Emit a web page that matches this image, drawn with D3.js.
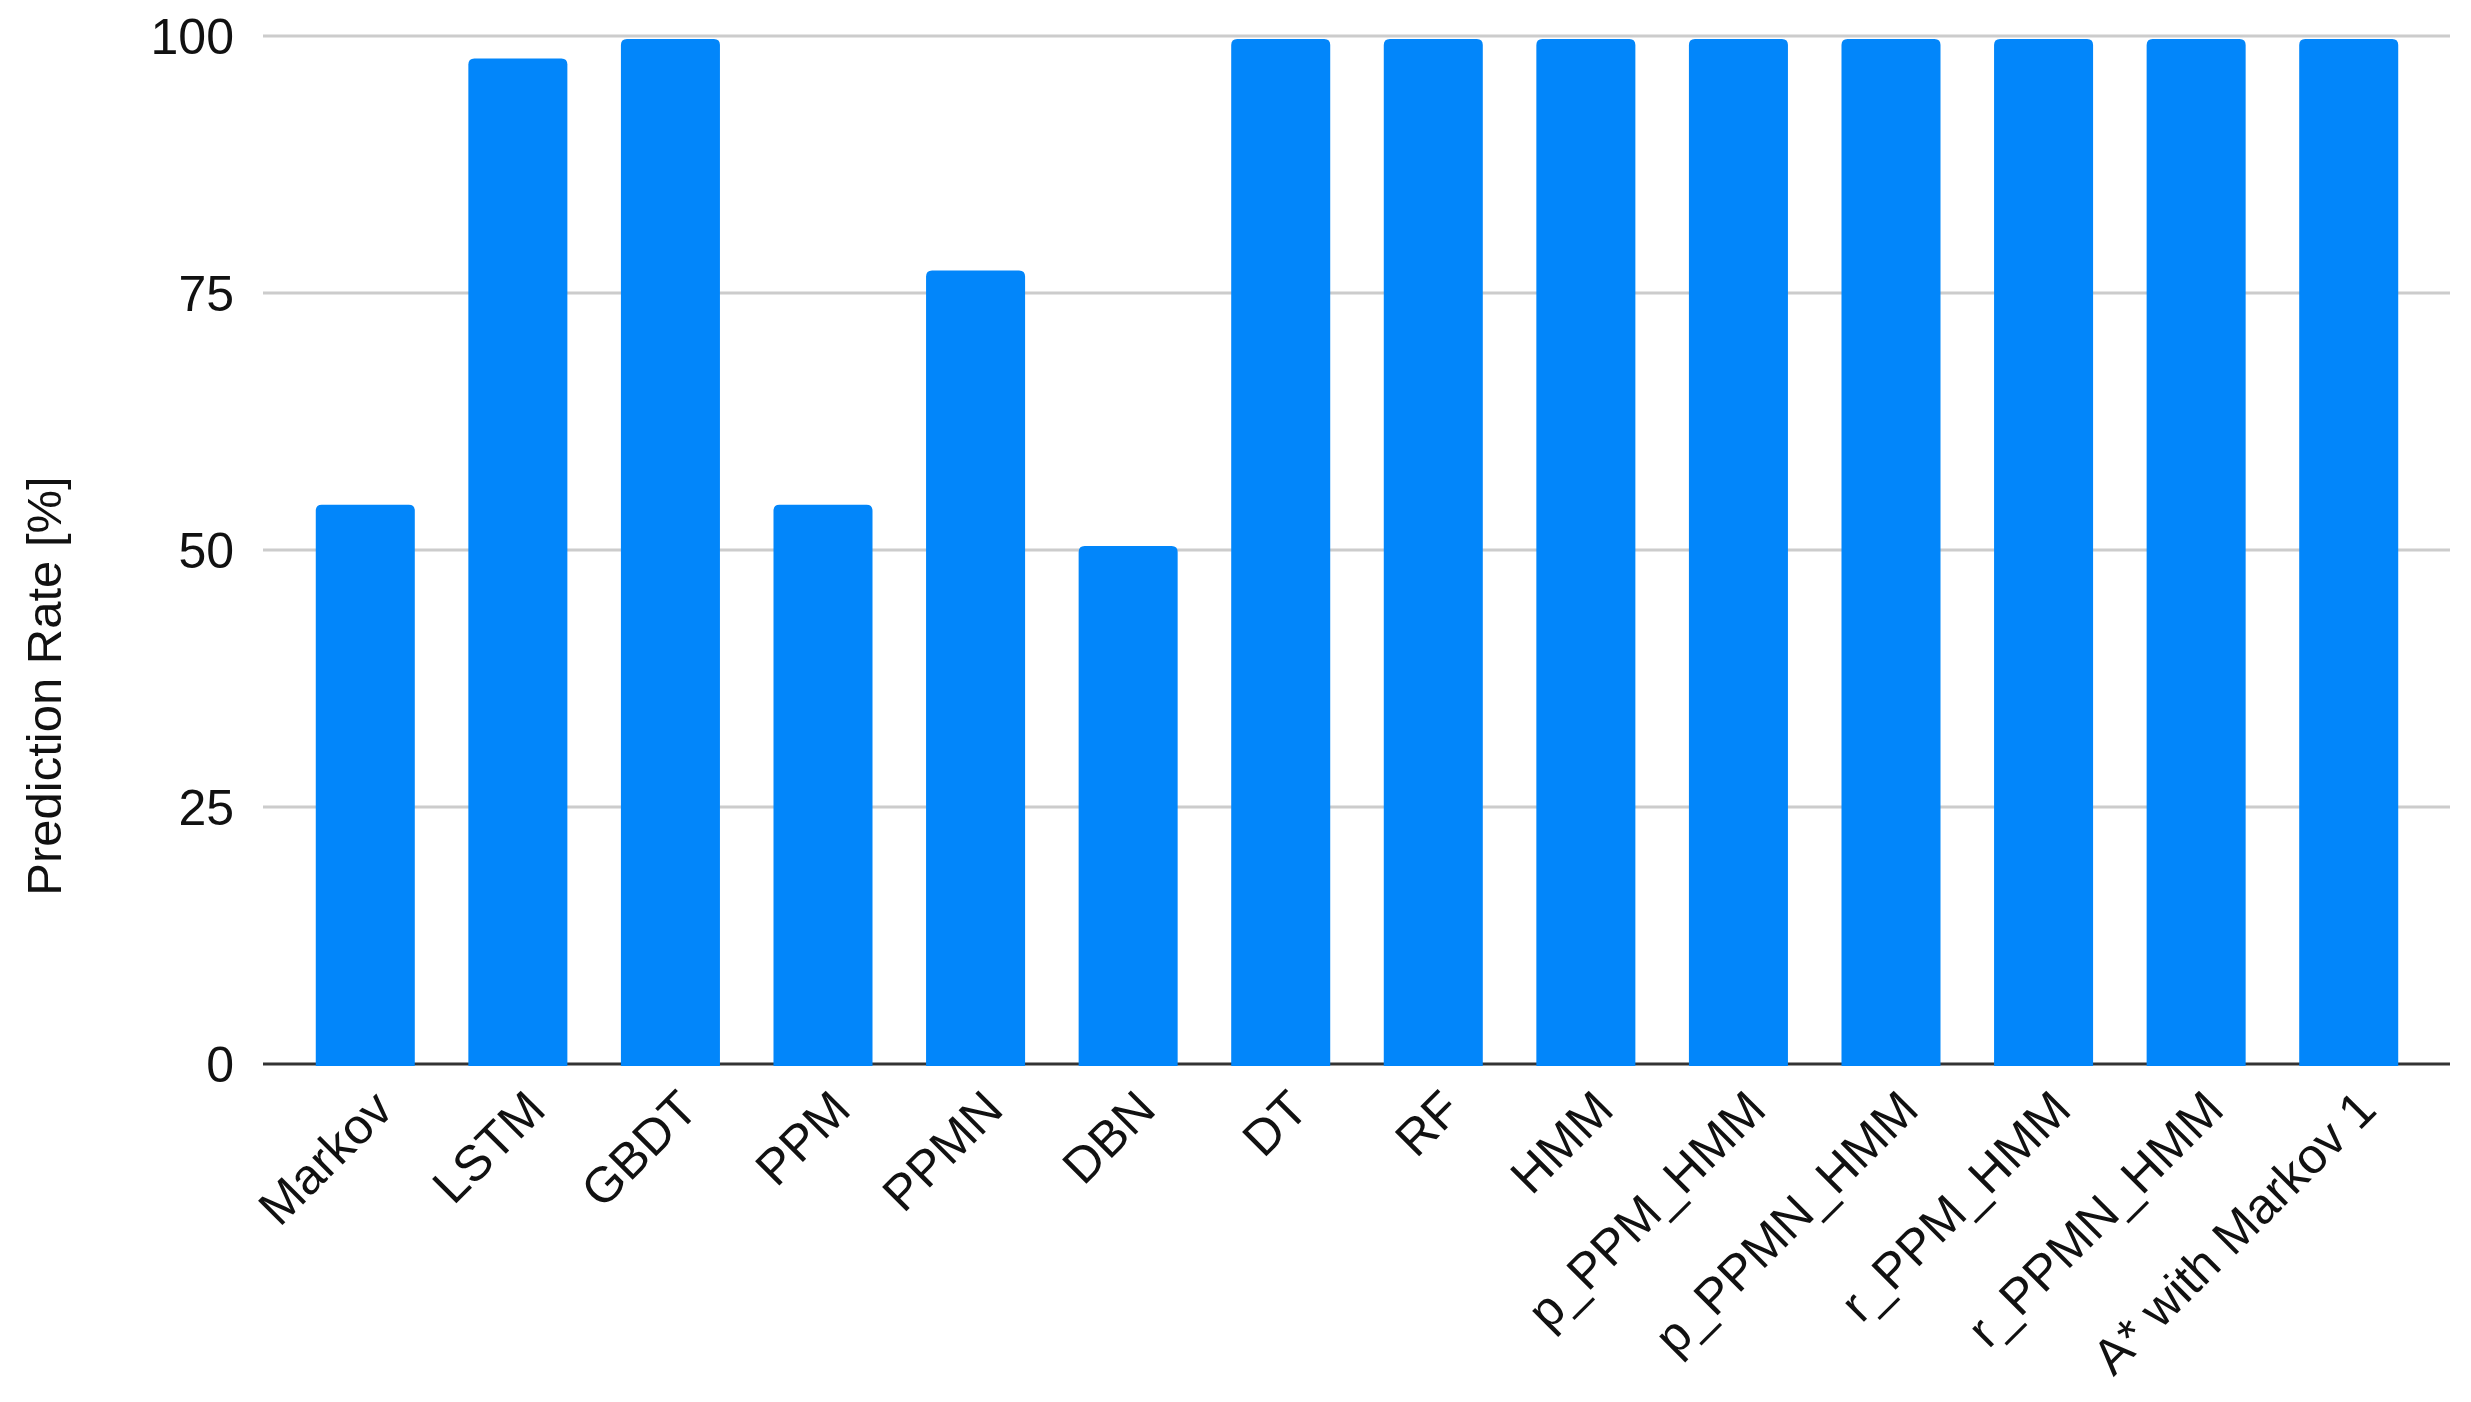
<!DOCTYPE html>
<html>
<head>
<meta charset="utf-8">
<script src="https://cdn.jsdelivr.net/npm/d3@7"></script>
<style>
  html, body { margin: 0; padding: 0; background: #fff; }
  svg { display: block; }
  text { font-family: "Liberation Sans", Arial, sans-serif; fill: #111; }
</style>
</head>
<body>
<svg id="chart" width="2471" height="1402"></svg>
<script>
const categories = ["Markov", "LSTM", "GBDT", "PPM", "PPMN", "DBN", "DT", "RF", "HMM",
  "p_PPM_HMM", "p_PPMN_HMM", "r_PPM_HMM", "r_PPMN_HMM", "A* with Markov 1"];
const values = [54.4, 97.8, 99.7, 54.4, 77.2, 50.4, 99.7, 99.7, 99.7, 99.7, 99.7, 99.7, 99.7, 99.7];
const yTicks = [0, 25, 50, 75, 100];
const yTitle = "Prediction Rate [%]";

const W = 2471, H = 1402;
const svg = d3.select("#chart");

const gridLeft = 263, gridRight = 2450;
const y = d3.scaleLinear().domain([0, 100]).range([1064, 36]);

const pi = 0.351;
const x = d3.scaleBand().domain(categories)
  .range([289, 2425]).paddingInner(pi).paddingOuter(pi / 2);

// gridlines
svg.append("g").selectAll("line").data(yTicks.filter(d => d !== 0)).join("line")
  .attr("x1", gridLeft).attr("x2", gridRight)
  .attr("y1", d => y(d)).attr("y2", d => y(d))
  .attr("stroke", "#cccccc").attr("stroke-width", 3);

// baseline
svg.append("line")
  .attr("x1", gridLeft).attr("x2", gridRight)
  .attr("y1", y(0)).attr("y2", y(0))
  .attr("stroke", "#333").attr("stroke-width", 3);

// y tick labels
const yAxis = d3.axisLeft(y).tickValues(yTicks).tickSize(0).tickPadding(0);
const ya = svg.append("g").attr("transform", "translate(234,0)").call(yAxis);
ya.select(".domain").remove();
ya.selectAll("text")
  .attr("font-size", 50)
  .attr("dy", "0.35em")
  .attr("x", 0)
  .style("font-family", "'Liberation Sans', Arial, sans-serif")
  .attr("fill", "#111");

// bars with rounded tops
const r = 6;
function barPath(d, i) {
  const x0 = x(categories[i]), w = x.bandwidth();
  const yt = y(d), yb = y(0) + 2;
  return `M${x0},${yb} L${x0},${yt + r} Q${x0},${yt} ${x0 + r},${yt} L${x0 + w - r},${yt} Q${x0 + w},${yt} ${x0 + w},${yt + r} L${x0 + w},${yb} Z`;
}
svg.append("g").selectAll("path").data(values).join("path")
  .attr("d", barPath)
  .attr("fill", "#0286fa");

// x labels (slanted)
const xAxis = d3.axisBottom(x).tickSize(0).tickPadding(0);
const xa = svg.append("g").attr("transform", `translate(0,${y(0)})`).call(xAxis);
xa.select(".domain").remove();
xa.selectAll(".tick text")
  .attr("font-size", 50)
  .style("font-family", "'Liberation Sans', Arial, sans-serif")
  .attr("fill", "#111")
  .attr("text-anchor", "end")
  .attr("y", 0).attr("dy", 0)
  .attr("transform", "translate(30,48) rotate(-45)");

// y title
svg.append("text")
  .attr("transform", "translate(61,686) rotate(-90)")
  .attr("text-anchor", "middle")
  .attr("font-size", 49)
  .text(yTitle);
</script>
</body>
</html>
